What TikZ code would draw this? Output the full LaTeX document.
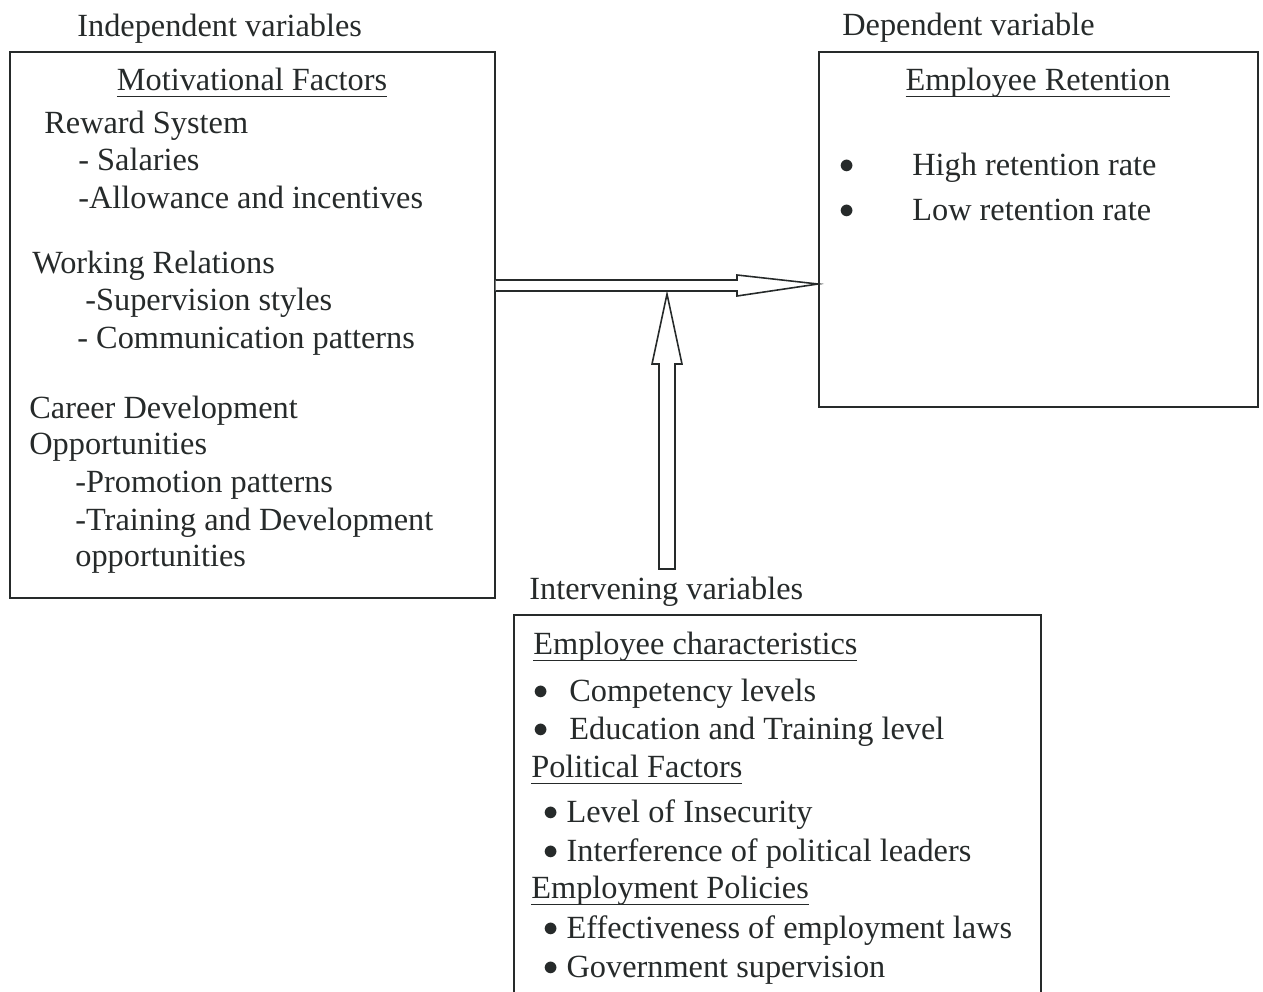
\documentclass[tikz,border=0pt]{standalone}
\usepackage{fontspec}
\setmainfont{Liberation Serif}
\definecolor{ink}{RGB}{38,42,42}
\newcommand{\undl}[1]{{\setbox0\hbox{#1}\rlap{\rule[-4pt]{\wd0}{0.8pt}}\box0}}
\newcommand{\bigdot}{\raisebox{0.06em}{$\bullet$}}

\begin{document}
\begin{tikzpicture}[x=0.02cm, y=-0.02cm, font=\fontsize{18.4}{22}\selectfont, color=ink,
		box/.style={draw, line width=1pt, anchor=north west, inner sep=0pt},
		txt/.style={anchor=base west, inner sep=0pt},
		head/.style={anchor=base, inner sep=0pt},
		blockarr/.style={draw, line width=0.9pt, fill=white, line join=miter}]
		\clip (0,0) rectangle (1263,991);
		\node[box, minimum width=9.7cm, minimum height=10.92cm] (indep) at (9,51) {};
		\node[box, minimum width=8.78cm, minimum height=7.1cm] (dep) at (818,51) {};
		\node[box, minimum width=10.54cm, minimum height=8cm] (interv) at (513,614) {};
		\node[txt] (indeplab) at (77,36) {Independent variables};
		\node[txt] (deplab) at (842,35) {Dependent variable};
		\node[txt] (intlab) at (529,599) {Intervening variables};
		\node[head] (motiv) at (252,90) {\undl{Motivational Factors}};
		\node[txt] (reward) at (44,133) {Reward System};
		\node[txt] (salaries) at (78,170) {- Salaries};
		\node[txt] (allow) at (78,208) {-Allowance and incentives};
		\node[txt] (working) at (32,273) {Working Relations};
		\node[txt] (superv) at (85,310) {-Supervision styles};
		\node[txt] (commun) at (77,348) {- Communication patterns};
		\node[txt] (career) at (29,418) {Career Development};
		\node[txt] (opport) at (29,454) {Opportunities};
		\node[txt] (promo) at (75,492) {-Promotion patterns};
		\node[txt] (train) at (75,530) {-Training and Development};
		\node[txt] (trainopp) at (75,566) {opportunities};
		\node[head] (retent) at (1038,90) {\undl{Employee Retention}};
		\node[txt] (high) at (839,175) {\makebox[1.46cm][l]{\bigdot}High retention rate};
		\node[txt] (low) at (839,220) {\makebox[1.46cm][l]{\bigdot}Low retention rate};
		\node[txt] (empchar) at (533,654) {\undl{Employee characteristics}};
		\node[txt] (compet) at (533,701) {\makebox[0.72cm][l]{\bigdot}Competency levels};
		\node[txt] (educ) at (533,739) {\makebox[0.72cm][l]{\bigdot}Education and Training level};
		\node[txt] (polit) at (531,777) {\undl{Political Factors}};
		\node[txt] (insec) at (543,822) {\bigdot\ Level of Insecurity};
		\node[txt] (interf) at (543,861) {\bigdot\ Interference of political leaders};
		\node[txt] (emppol) at (531,898) {\undl{Employment Policies}};
		\node[txt] (effect) at (543,938) {\bigdot\ Effectiveness of employment laws};
		\node[txt] (govt) at (543,977) {\bigdot\ Government supervision};
		\coordinate (ivfoot) at (667,569);
		\draw[blockarr] (indep.east |- 0,280) -- (737,280) -- (737,275) -- (dep.west |- 0,284) -- (737,296) -- (737,291) -- (indep.east |- 0,291);
		\draw[blockarr] (ivfoot) ++(-8,0) -- ++(0,-205) -- ++(-7,0) -- ++(15,-70) -- ++(15,70) -- ++(-7,0) -- ++(0,205) -- cycle;
	\end{tikzpicture}
\end{document}
